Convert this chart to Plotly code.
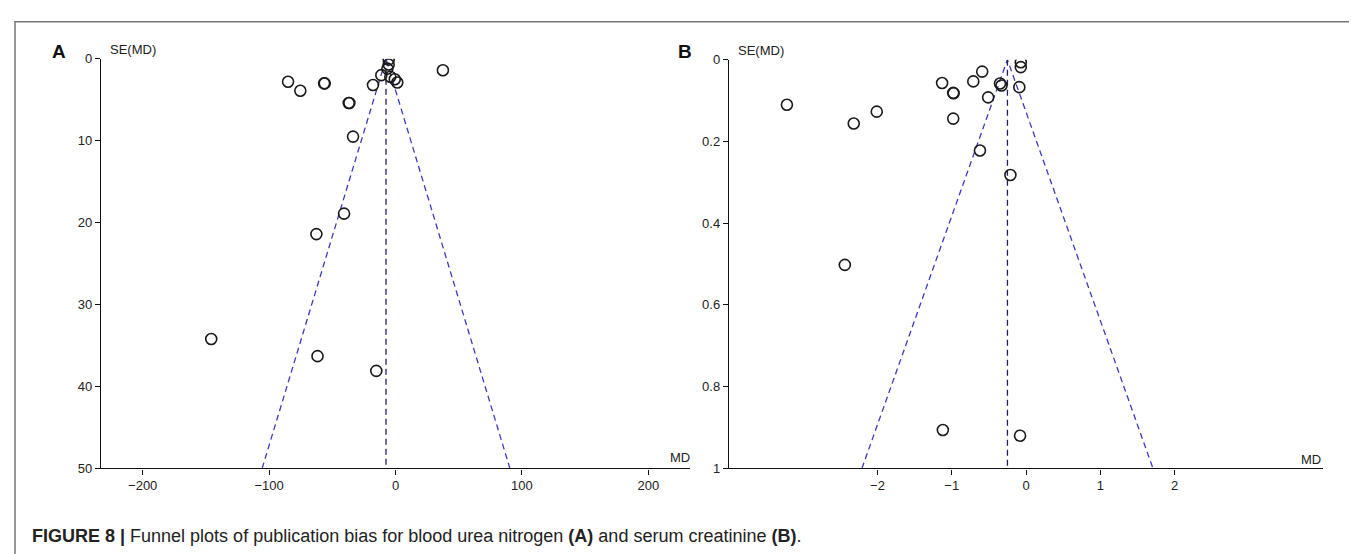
import plotly.graph_objects as go

# ---------------- data ----------------
# Panel A: blood urea nitrogen (MD, SE(MD))
a_md = [-85, -75.3, -56.5, -56.0, -37.0, -36.5, -33.6, -17.8, -11.2, -5.4, -5.4,
        -6.4, -4.1, -0.6, 1.4, 37.5, -40.7, -62.6, -145.8, -61.7, -15.2]
a_se = [2.8, 3.9, 3.0, 3.0, 5.4, 5.4, 9.5, 3.2, 2.0, 0.1, 0.7,
        1.2, 2.2, 2.5, 2.9, 1.4, 18.9, 21.4, 34.2, 36.3, 38.1]
a_pooled = -7.5
a_se_max = 50

# Panel B: serum creatinine (MD, SE(MD))
b_md = [-3.22, -2.32, -2.01, -1.13, -0.98, -0.975, -0.98, -0.71, -0.59, -0.51,
        -0.35, -0.33, -0.07, -0.07, -0.09, -0.62, -0.21, -2.44, -1.12, -0.08]
b_se = [0.110, 0.156, 0.127, 0.057, 0.081, 0.082, 0.144, 0.053, 0.029, 0.092,
        0.058, 0.063, 0.006, 0.018, 0.067, 0.222, 0.282, 0.502, 0.906, 0.920]
b_pooled = -0.25
b_se_max = 1.0

a_xticks = [-200, -100, 0, 100, 200]
a_yticks = [0, 10, 20, 30, 40, 50]
b_xticks = [-2, -1, 0, 1, 2]
b_yticks = [0, 0.2, 0.4, 0.6, 0.8, 1]
b_yticktext = ["0", "0.2", "0.4", "0.6", "0.8", "1"]

caption = ("<b>FIGURE 8 |</b> Funnel plots of publication bias for blood urea nitrogen "
           "<b>(A)</b> and serum creatinine <b>(B)</b>.")

# ---------------- figure ----------------
W, H = 1357, 554
FONT = "Liberation Sans Narrow, Arial Narrow, Liberation Sans, Arial, sans-serif"
funnel_col = "#3a3ac0"
center_col = "#20205e"
DASH = "6px,4px"

fig = go.Figure()


def add_panel(md, se, pooled, se_max, xa, ya):
    z = 1.96
    fig.add_trace(go.Scatter(x=[pooled - z * se_max, pooled, pooled + z * se_max],
                             y=[se_max, 0, se_max], mode="lines",
                             line=dict(color=funnel_col, width=1.3, dash=DASH),
                             xaxis=xa, yaxis=ya, hoverinfo="skip", showlegend=False))
    fig.add_trace(go.Scatter(x=[pooled, pooled], y=[0, se_max], mode="lines",
                             line=dict(color=center_col, width=1.3, dash=DASH),
                             xaxis=xa, yaxis=ya, hoverinfo="skip", showlegend=False))
    fig.add_trace(go.Scatter(x=md, y=se, mode="markers",
                             marker=dict(symbol="circle-open", size=11, color="#1a1a1a",
                                         line=dict(width=1.6, color="#1a1a1a")),
                             xaxis=xa, yaxis=ya, showlegend=False))


add_panel(a_md, a_se, a_pooled, a_se_max, "x", "y")
add_panel(b_md, b_se, b_pooled, b_se_max, "x2", "y2")


def px_x(p):
    return p / W


def px_y(p):
    return 1 - p / H


axis_common = dict(showgrid=False, zeroline=False, showline=True, linecolor="#111",
                   linewidth=1.4, ticks="outside", ticklen=5, tickcolor="#111",
                   tickwidth=1.2, tickfont=dict(family=FONT, size=13, color="#222"))
inner_ticks = dict(showgrid=False, zeroline=False, showline=False, ticks="inside",
                   ticklen=4, tickcolor="#111", tickwidth=1.2, showticklabels=False)

ax_dom = [px_x(93), px_x(682)]
ay_dom = [px_y(466), px_y(45)]
bx_dom = [px_x(721), px_x(1315)]
by_dom = [px_y(466), px_y(46)]

fig.update_layout(
    width=W, height=H, margin=dict(l=0, r=0, t=0, b=0),
    paper_bgcolor="white", plot_bgcolor="white",
    xaxis=dict(domain=ax_dom, range=[-233, 233], anchor="y",
               tickvals=a_xticks, **axis_common),
    yaxis=dict(domain=ay_dom, range=[a_se_max, 0], anchor="x",
               tickvals=a_yticks, **axis_common),
    xaxis2=dict(domain=bx_dom, range=[-4, 4], anchor="y2",
                tickvals=b_xticks, **axis_common),
    yaxis2=dict(domain=by_dom, range=[b_se_max, 0], anchor="x2",
                tickvals=b_yticks, ticktext=b_yticktext, **axis_common),
    # overlay axes that add the inner half of the crossing tick marks
    xaxis3=dict(overlaying="x", anchor="y", range=[-233, 233], tickvals=a_xticks,
                side="bottom", **inner_ticks),
    yaxis3=dict(overlaying="y", anchor="x", range=[a_se_max, 0], tickvals=a_yticks,
                side="left", **inner_ticks),
    xaxis4=dict(overlaying="x2", anchor="y2", range=[-4, 4], tickvals=b_xticks,
                side="bottom", **inner_ticks),
    yaxis4=dict(overlaying="y2", anchor="x2", range=[b_se_max, 0], tickvals=b_yticks,
                side="left", **inner_ticks),
)

ann_font = dict(family=FONT, size=13, color="#222")
anns = [
    dict(x=px_x(100), y=px_y(35), text="SE(MD)", xanchor="left", yanchor="middle", font=ann_font),
    dict(x=px_x(728), y=px_y(36), text="SE(MD)", xanchor="left", yanchor="middle", font=ann_font),
    dict(x=px_x(672), y=px_y(455), text="MD", xanchor="center", yanchor="middle", font=ann_font),
    dict(x=px_x(1303), y=px_y(457), text="MD", xanchor="center", yanchor="middle", font=ann_font),
    dict(x=px_x(51), y=px_y(38), text="<b>A</b>", xanchor="center", yanchor="middle",
         font=dict(family="Liberation Sans, Arial, sans-serif", size=19, color="#111")),
    dict(x=px_x(677), y=px_y(38), text="<b>B</b>", xanchor="center", yanchor="middle",
         font=dict(family="Liberation Sans, Arial, sans-serif", size=19, color="#111")),
    dict(x=px_x(22), y=px_y(535), text=caption, xanchor="left", yanchor="middle",
         font=dict(family=FONT, size=18, color="#222")),
]
for a in anns:
    a.update(xref="paper", yref="paper", showarrow=False)
fig.update_layout(annotations=anns)

fig.add_shape(type="rect", xref="paper", yref="paper",
              x0=px_x(7), x1=px_x(1355), y0=-0.05, y1=px_y(7),
              line=dict(color="#777", width=1.5), fillcolor="rgba(0,0,0,0)", layer="below")

fig.write_html("out.html")
